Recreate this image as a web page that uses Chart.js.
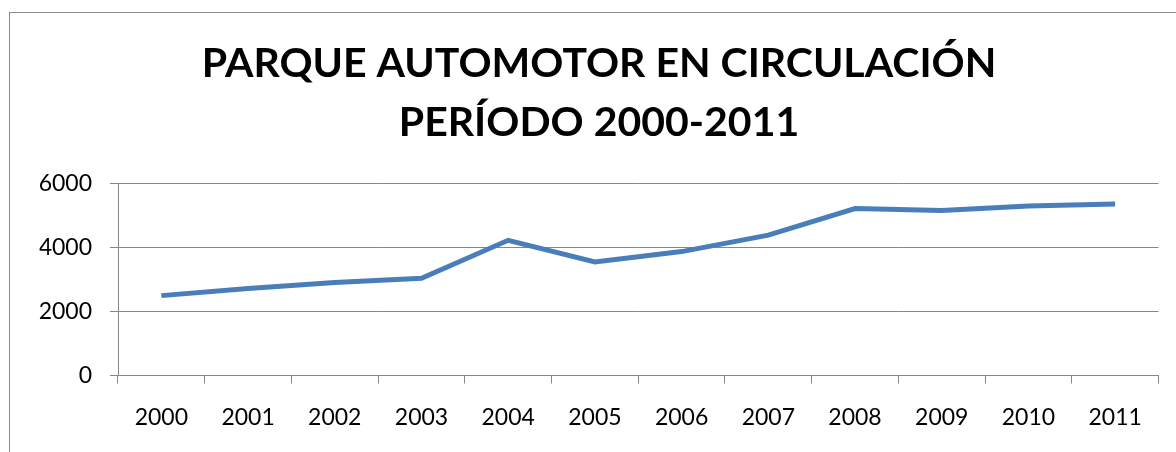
<!DOCTYPE html>
<html>
<head>
<meta charset="utf-8">
<script src="https://cdn.jsdelivr.net/npm/chart.js@4"></script>
<style>
    html, body { margin: 0; padding: 0; background: #fff; overflow: hidden; }
    #frame {
        position: absolute; left: 9px; top: 12px;
        width: 1300px; height: 600px;
        border: 1px solid #8a8a8a;
    }
    #wrap { position: absolute; left: 0; top: 0; width: 1176px; height: 452px; }
</style>
</head>
<body>
<div id="frame"></div>
<div id="wrap"><canvas id="parqueChart"></canvas></div>
<script>
const years = ["2000", "2001", "2002", "2003", "2004", "2005", "2006", "2007", "2008", "2009", "2010", "2011"];
const vehicles = [2500, 2725, 2910, 3045, 4235, 3555, 3880, 4395, 5230, 5170, 5310, 5375];
const yTicks = [0, 2000, 4000, 6000];
const titleLines = ["PARQUE AUTOMOTOR EN CIRCULACIÓN", "PERÍODO 2000-2011"];

const gridGrey = '#878787';

const ctx = document.getElementById("parqueChart").getContext("2d");

new Chart(ctx, {
    type: "line",
    data: {
        labels: years,
        datasets: [{
            data: vehicles,
            borderColor: '#4a7ebb',
            borderWidth: 5,
            pointRadius: 0,
            tension: 0,
            fill: false
        }]
    },
    options: {
        responsive: true,
        maintainAspectRatio: false,
        animation: false,
        layout: {
            // left padding pushes the title centre right, y axis width makes up for it
            padding: { left: 39.5, right: 17.5, top: 0, bottom: 1 }
        },
        plugins: {
            legend: { display: false },
            tooltip: { enabled: false },
            title: {
                display: true,
                text: titleLines,
                color: '#000',
                font: { family: 'Lato', size: 41, weight: 'bold', lineHeight: 1.42 },
                padding: { top: 35, bottom: 32.5 }
            }
        },
        scales: {
            x: {
                offset: true,
                grid: {
                    offset: true,
                    drawOnChartArea: false,
                    tickLength: 8,
                    color: gridGrey
                },
                border: { color: gridGrey, width: 1 },
                ticks: {
                    color: '#000',
                    padding: 20,
                    maxRotation: 0,
                    font: { family: 'Lato', size: 23 }
                }
            },
            y: {
                min: 0,
                max: 6000,
                afterFit: (scale) => { scale.width = 78.5; },
                afterBuildTicks: (scale) => {
                    scale.ticks = yTicks.map(v => ({ value: v }));
                },
                grid: {
                    color: gridGrey,
                    tickLength: 8
                },
                border: { color: gridGrey, width: 1 },
                ticks: {
                    color: '#000',
                    padding: 18,
                    font: { family: 'Lato', size: 23 },
                    callback: (value) => String(value)
                }
            }
        }
    }
});
</script>
</body>
</html>
